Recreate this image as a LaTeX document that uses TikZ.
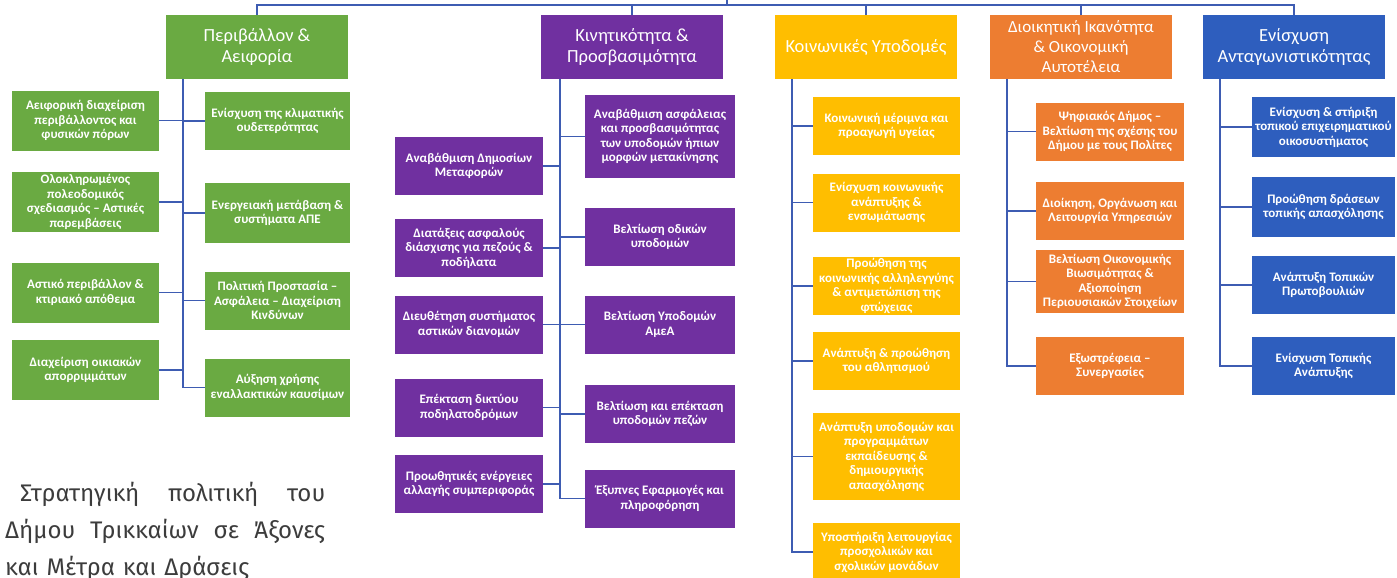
\documentclass[tikz,border=0pt]{standalone}
\usepackage{fontspec}
\usepackage{xcolor}
\setmainfont{Carlito}
\newfontfamily\captionfont{Fira Sans}

\definecolor{envgreen}{RGB}{106,170,66}
\definecolor{mobpurple}{RGB}{112,48,160}
\definecolor{socyellow}{RGB}{255,190,0}
\definecolor{admorange}{RGB}{237,125,49}
\definecolor{cmpblue}{RGB}{46,94,190}
\definecolor{linkblue}{RGB}{62,92,178}
\definecolor{captiongray}{RGB}{60,60,60}

\tikzset{
  axisbox/.style={fill=#1, text=white, minimum width=182pt, minimum height=64pt,
    inner sep=2pt, align=center, font=\fontsize{18.5}{21}\selectfont},
  measurebox/.style={fill=#1, text=white, minimum width=147pt, minimum height=58pt,
    inner sep=1pt, align=center, font=\bfseries\fontsize{13}{14.5}\selectfont},
  linkline/.style={draw=linkblue, line width=1.6pt}
}

\begin{document}
\begin{tikzpicture}[x=1pt,y=-1pt]
\useasboundingbox (0,0) rectangle (1397,578);

% Axes
\node[axisbox=envgreen] (env) at (257,47) {Περιβάλλον \&\\Αειφορία};
\node[axisbox=mobpurple] (mob) at (632,47) {Κινητικότητα \&\\Προσβασιμότητα};
\node[axisbox=socyellow] (soc) at (866,47) {Κοινωνικές Υποδομές};
\node[axisbox=admorange, font=\fontsize{17}{20}\selectfont] (adm) at (1081,47) {Διοικητική Ικανότητα\\\& Οικονομική\\Αυτοτέλεια};
\node[axisbox=cmpblue] (cmp) at (1294,47) {Ενίσχυση\\Ανταγωνιστικότητας};

% Environment
\node[measurebox=envgreen, minimum height=60pt] (e1) at (85.5,120.5) {Αειφορική διαχείριση\\περιβάλλοντος και\\φυσικών πόρων};
\node[measurebox=envgreen, minimum height=60pt] (e2) at (85.5,202) {Ολοκληρωμένος\\πολεοδομικός\\σχεδιασμός – Αστικές\\παρεμβάσεις};
\node[measurebox=envgreen, minimum height=60pt] (e3) at (85.5,292.5) {Αστικό περιβάλλον \&\\κτιριακό απόθεμα};
\node[measurebox=envgreen, minimum height=60pt] (e4) at (85.5,370) {Διαχείριση οικιακών\\απορριμμάτων};
\node[measurebox=envgreen, minimum width=145pt] (e5) at (277.5,121) {Ενίσχυση της κλιματικής\\ουδετερότητας};
\node[measurebox=envgreen, minimum width=145pt, minimum height=60pt] (e6) at (277.5,213) {Ενεργειακή μετάβαση \&\\συστήματα ΑΠΕ};
\node[measurebox=envgreen, minimum width=145pt] (e7) at (277.5,300.5) {Πολιτική Προστασία –\\Ασφάλεια – Διαχείριση\\Κινδύνων};
\node[measurebox=envgreen, minimum width=145pt] (e8) at (277.5,387.5) {Αύξηση χρήσης\\εναλλακτικών καυσίμων};

% Mobility
\node[measurebox=mobpurple, minimum width=148pt] (m1) at (469,166) {Αναβάθμιση Δημοσίων\\Μεταφορών};
\node[measurebox=mobpurple, minimum width=148pt] (m2) at (469,248) {Διατάξεις ασφαλούς\\διάσχισης για πεζούς \&\\ποδήλατα};
\node[measurebox=mobpurple, minimum width=148pt] (m3) at (469,324.5) {Διευθέτηση συστήματος\\αστικών διανομών};
\node[measurebox=mobpurple, minimum width=148pt] (m4) at (469,407.5) {Επέκταση δικτύου\\ποδηλατοδρόμων};
\node[measurebox=mobpurple, minimum width=148pt] (m5) at (469,484) {Προωθητικές ενέργειες\\αλλαγής συμπεριφοράς};
\node[measurebox=mobpurple, minimum width=150pt, minimum height=83pt] (m6) at (660,136.5) {Αναβάθμιση ασφάλειας\\και προσβασιμότητας\\των υποδομών ήπιων\\μορφών μετακίνησης};
\node[measurebox=mobpurple, minimum width=150pt] (m7) at (660,237) {Βελτίωση οδικών\\υποδομών};
\node[measurebox=mobpurple, minimum width=150pt] (m8) at (660,324.5) {Βελτίωση Υποδομών\\ΑμεΑ};
\node[measurebox=mobpurple, minimum width=150pt] (m9) at (660,414) {Βελτίωση και επέκταση\\υποδομών πεζών};
\node[measurebox=mobpurple, minimum width=150pt] (m10) at (660,498.5) {Έξυπνες Εφαρμογές και\\πληροφόρηση};

% Social
\node[measurebox=socyellow] (s1) at (886.5,126) {Κοινωνική μέριμνα και\\προαγωγή υγείας};
\node[measurebox=socyellow] (s2) at (886.5,202.5) {Ενίσχυση κοινωνικής\\ανάπτυξης \&\\ενσωμάτωσης};
\node[measurebox=socyellow] (s3) at (886.5,286) {Προώθηση της\\κοινωνικής αλληλεγγύης\\\& αντιμετώπιση της\\φτώχειας};
\node[measurebox=socyellow] (s4) at (886.5,361) {Ανάπτυξη \& προώθηση\\του αθλητισμού};
\node[measurebox=socyellow, minimum height=87pt] (s5) at (886.5,456.5) {Ανάπτυξη υποδομών και\\προγραμμάτων\\εκπαίδευσης \&\\δημιουργικής\\απασχόλησης};
\node[measurebox=socyellow] (s6) at (886.5,552) {Υποστήριξη λειτουργίας\\προσχολικών και\\σχολικών μονάδων};

% Administration
\node[measurebox=admorange, minimum width=148pt] (a1) at (1110,131.5) {Ψηφιακός Δήμος –\\Βελτίωση της σχέσης του\\Δήμου με τους Πολίτες};
\node[measurebox=admorange, minimum width=148pt] (a2) at (1110,211) {Διοίκηση, Οργάνωση και\\Λειτουργία Υπηρεσιών};
\node[measurebox=admorange, minimum width=148pt, minimum height=63pt] (a3) at (1110,281.5) {Βελτίωση Οικονομικής\\Βιωσιμότητας \&\\Αξιοποίηση\\Περιουσιακών Στοιχείων};
\node[measurebox=admorange, minimum width=148pt] (a4) at (1110,366) {Εξωστρέφεια –\\Συνεργασίες};

% Competitiveness
\node[measurebox=cmpblue, minimum width=143pt, minimum height=60pt] (c1) at (1323.5,127) {Ενίσχυση \& στήριξη\\τοπικού επιχειρηματικού\\οικοσυστήματος};
\node[measurebox=cmpblue, minimum width=143pt, minimum height=60pt] (c2) at (1323.5,207) {Προώθηση δράσεων\\τοπικής απασχόλησης};
\node[measurebox=cmpblue, minimum width=143pt] (c3) at (1323.5,285) {Ανάπτυξη Τοπικών\\Πρωτοβουλιών};
\node[measurebox=cmpblue, minimum width=143pt] (c4) at (1323.5,366) {Ενίσχυση Τοπικής\\Ανάπτυξης};

% Top bar
\coordinate (root) at (727,0);
\coordinate (hub) at (727,5);
\draw[linkline] (root) -- (hub);
\draw[linkline] (env.north) |- (hub) -| (cmp.north);
\draw[linkline] (mob.north) -- (mob.north |- hub);
\draw[linkline] (soc.north) -- (soc.north |- hub);
\draw[linkline] (adm.north) -- (adm.north |- hub);

% Trunks
\coordinate (envtrunk) at (183,0);
\coordinate (mobtrunk) at (560,0);
\coordinate (soctrunk) at (792,0);
\coordinate (admtrunk) at (1007,0);
\coordinate (cmptrunk) at (1220,0);
\draw[linkline] (env.south -| envtrunk) |- (e8.west);
\draw[linkline] (mob.south -| mobtrunk) |- (m10.west);
\draw[linkline] (soc.south -| soctrunk) |- (s6.west);
\draw[linkline] (adm.south -| admtrunk) |- (a4.west);
\draw[linkline] (cmp.south -| cmptrunk) |- (c4.west);

% Branches
\draw[linkline] (e1.east) -- (e1.east -| envtrunk);
\draw[linkline] (e2.east) -- (e2.east -| envtrunk);
\draw[linkline] (e3.east) -- (e3.east -| envtrunk);
\draw[linkline] (e4.east) -- (e4.east -| envtrunk);
\draw[linkline] (e5.west) -- (e5.west -| envtrunk);
\draw[linkline] (e6.west) -- (e6.west -| envtrunk);
\draw[linkline] (e7.west) -- (e7.west -| envtrunk);

\draw[linkline] (m1.east) -- (m1.east -| mobtrunk);
\draw[linkline] (m2.east) -- (m2.east -| mobtrunk);
\draw[linkline] (m3.east) -- (m3.east -| mobtrunk);
\draw[linkline] (m4.east) -- (m4.east -| mobtrunk);
\draw[linkline] (m5.east) -- (m5.east -| mobtrunk);
\draw[linkline] (m6.west) -- (m6.west -| mobtrunk);
\draw[linkline] (m7.west) -- (m7.west -| mobtrunk);
\draw[linkline] (m8.west) -- (m8.west -| mobtrunk);
\draw[linkline] (m9.west) -- (m9.west -| mobtrunk);

\draw[linkline] (s1.west) -- (s1.west -| soctrunk);
\draw[linkline] (s2.west) -- (s2.west -| soctrunk);
\draw[linkline] (s3.west) -- (s3.west -| soctrunk);
\draw[linkline] (s4.west) -- (s4.west -| soctrunk);
\draw[linkline] (s5.west) -- (s5.west -| soctrunk);

\draw[linkline] (a1.west) -- (a1.west -| admtrunk);
\draw[linkline] (a2.west) -- (a2.west -| admtrunk);
\draw[linkline] (a3.west) -- (a3.west -| admtrunk);

\draw[linkline] (c1.west) -- (c1.west -| cmptrunk);
\draw[linkline] (c2.west) -- (c2.west -| cmptrunk);
\draw[linkline] (c3.west) -- (c3.west -| cmptrunk);

% Caption
\node[anchor=north west, inner sep=0pt, text width=320pt, align=left, text=captiongray,
  font=\captionfont\fontsize{24}{37}\selectfont] (title) at (5,482)
  {\hspace*{15pt}Στρατηγική\hfill πολιτική\hfill του\\
   Δήμου\hfill Τρικκαίων\hfill σε\hfill Άξονες\\
   και Μέτρα και Δράσεις};
\end{tikzpicture}
\end{document}
